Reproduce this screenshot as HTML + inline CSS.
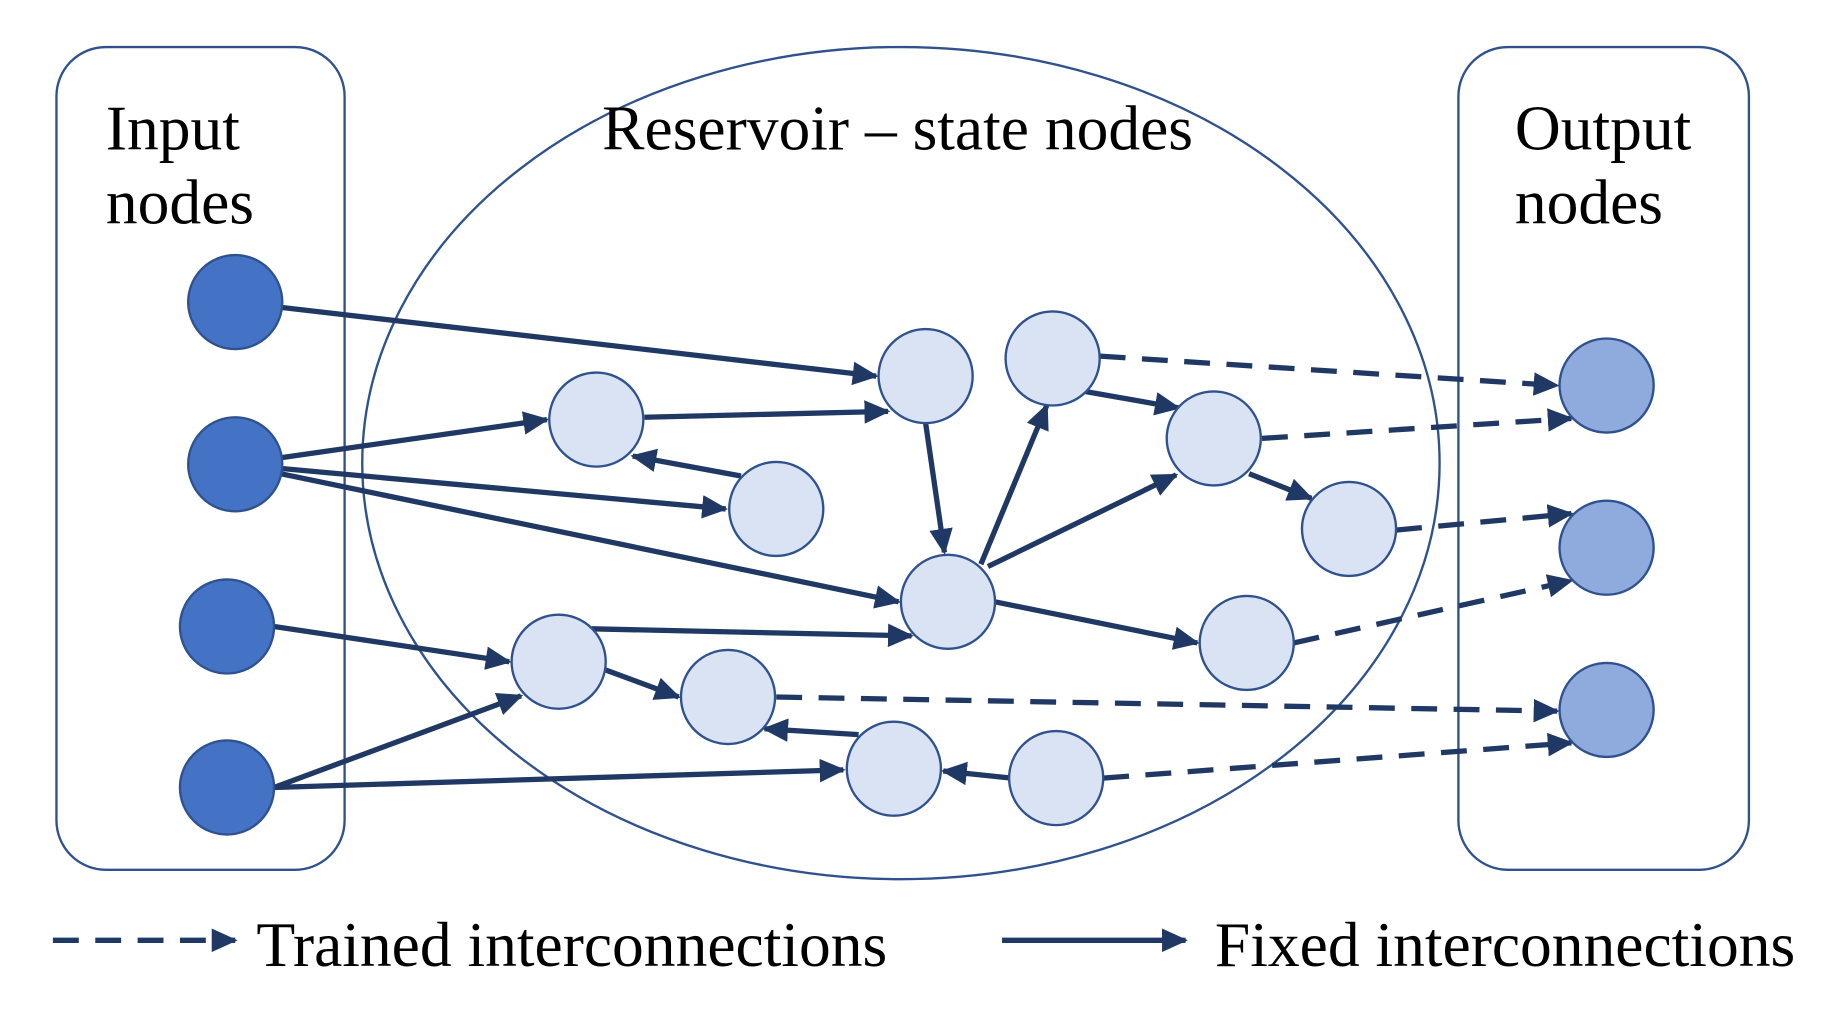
<!DOCTYPE html>
<html><head><meta charset="utf-8"><style>html,body{margin:0;padding:0;background:#fff}svg{display:block}</style></head>
<body>
<svg width="1843" height="1012" viewBox="0 0 1567 861" preserveAspectRatio="none" xmlns="http://www.w3.org/2000/svg">
<defs>
<marker id="a" markerUnits="userSpaceOnUse" markerWidth="22" markerHeight="20" refX="20" refY="10" orient="auto"><path d="M0,0 L22,10 L0,20 Z" fill="#203864"/></marker>
</defs>
<g fill="none" stroke="#2F528F" stroke-width="2">
<rect x="48" y="40" width="245" height="700" rx="42"/>
<rect x="1240" y="40" width="247" height="700" rx="42"/>
<ellipse cx="766" cy="394" rx="458" ry="354"/>
</g>
<g font-family="Liberation Serif, serif" font-size="54" fill="#000">
<text x="90" y="127">Input</text><text x="90" y="190">nodes</text>
<text x="512" y="127">Reservoir – state nodes</text>
<text x="1288" y="127">Output</text><text x="1288" y="190">nodes</text>
<text x="218" y="822">Trained interconnections</text>
<text x="1033" y="822">Fixed interconnections</text>
</g>
<g stroke="#203864" stroke-width="4.5" marker-end="url(#a)" fill="none">
<line x1="200" y1="257" x2="745" y2="320"/>
<line x1="200" y1="395" x2="465" y2="357"/>
<line x1="200" y1="395" x2="617" y2="433"/>
<line x1="200" y1="395" x2="764" y2="512"/>
<line x1="548" y1="355" x2="755" y2="350"/>
<line x1="630" y1="405" x2="538" y2="388"/>
<line x1="787" y1="360" x2="803" y2="470"/>
<line x1="834" y1="480" x2="890" y2="345"/>
<line x1="840" y1="482" x2="1000" y2="404"/>
<line x1="922" y1="333" x2="1002" y2="347"/>
<line x1="1062" y1="403" x2="1115" y2="424"/>
<line x1="846" y1="512" x2="1018" y2="547"/>
<line x1="233" y1="533" x2="433" y2="563"/>
<line x1="233" y1="670" x2="443" y2="592"/>
<line x1="503" y1="535" x2="775" y2="541"/>
<line x1="515" y1="570" x2="577" y2="593"/>
<line x1="233" y1="670" x2="717" y2="655"/>
<line x1="730" y1="625" x2="650" y2="620"/>
<line x1="860" y1="662" x2="802" y2="656"/>
<line x1="852" y1="800" x2="1008" y2="800"/>
<g stroke-dasharray="22,14">
<line x1="935" y1="303" x2="1324" y2="328"/>
<line x1="1073" y1="373" x2="1336" y2="356"/>
<line x1="1187" y1="451" x2="1336" y2="437"/>
<line x1="1100" y1="547" x2="1336" y2="494"/>
<line x1="660" y1="593" x2="1324" y2="605"/>
<line x1="938" y1="662" x2="1336" y2="632"/>
<line x1="45" y1="800" x2="200" y2="800"/>
</g>
</g>
<g stroke="#2F528F" stroke-width="2">
<g fill="#4472C4">
<circle cx="200" cy="257" r="40"/><circle cx="200" cy="395" r="40"/><circle cx="193" cy="533" r="40"/><circle cx="193" cy="670" r="40"/>
</g>
<g fill="#DAE3F3">
<circle cx="507" cy="357" r="40"/><circle cx="787" cy="320" r="40"/><circle cx="895" cy="305" r="40"/><circle cx="660" cy="433" r="40"/>
<circle cx="1032" cy="373" r="40"/><circle cx="1147" cy="450" r="40"/><circle cx="806" cy="512" r="40"/><circle cx="1060" cy="547" r="40"/>
<circle cx="475" cy="563" r="40"/><circle cx="619" cy="593" r="40"/><circle cx="760" cy="654" r="40"/><circle cx="898" cy="662" r="40"/>
</g>
<g fill="#8FAADC">
<circle cx="1366" cy="328" r="40"/><circle cx="1366" cy="466" r="40"/><circle cx="1366" cy="604" r="40"/>
</g>
</g>
</svg>
</body></html>
